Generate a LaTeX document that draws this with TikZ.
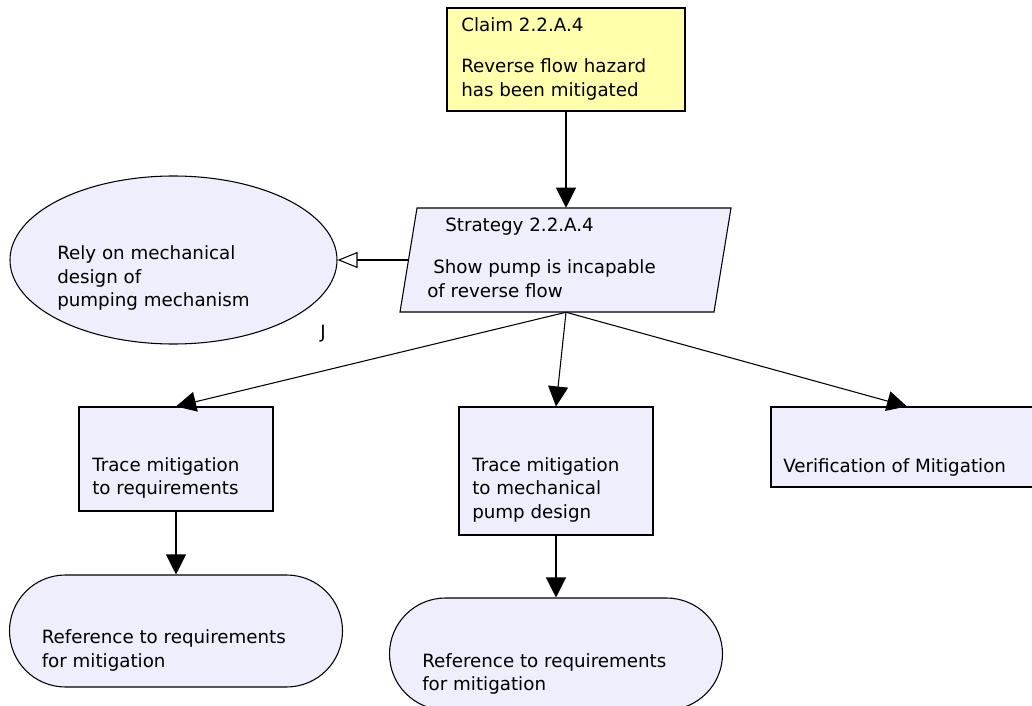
\documentclass[tikz,border=0pt]{standalone}
\usepackage{fontspec}
\setmainfont{DejaVu Sans}
\usetikzlibrary{arrows.meta,shapes.geometric,shapes.misc}
\definecolor{claimfill}{RGB}{255,255,172}
\definecolor{nodefill}{RGB}{238,238,252}
\begin{document}
\begin{tikzpicture}[x=0.75pt,y=-0.75pt,
  every node/.style={font=\fontsize{13.7pt}{18pt}\selectfont},
  lbl/.style={anchor=base west,inner sep=0pt},
  box/.style={draw=black,line width=0.8pt,fill=nodefill,rectangle,inner sep=0pt},
  claimbox/.style={box,fill=claimfill},
  ghost/.style={rectangle,inner sep=0pt},
  ctx/.style={draw=black,line width=0.8pt,fill=nodefill,ellipse,inner sep=0pt},
  solnbox/.style={draw=black,line width=0.8pt,fill=nodefill,rounded rectangle,inner sep=0pt},
  link/.style={line width=0.8pt,-{Triangle[length=15pt,width=15pt]}},
  ctxlink/.style={line width=0.8pt,-{Triangle[open,fill=white,length=15pt,width=12pt]}}]
\useasboundingbox (0,0) rectangle (1032,706);

% goal
\node[claimbox,minimum width=238*0.75pt,minimum height=103*0.75pt] (claim) at (566,59.5) {};
\node[lbl] (claimid) at (461,32) {Claim 2.2.A.4};
\node[lbl] (claimtxt1) at (461,73) {Reverse flow hazard};
\node[lbl] (claimtxt2) at (461,96.5) {has been mitigated};

% strategy (parallelogram drawn around an invisible frame)
\node[ghost,minimum width=314*0.75pt,minimum height=104*0.75pt] (strat) at (566,260) {};
\draw[line width=0.8pt,fill=nodefill] (417,208) -- (731,208) -- (714,312) -- (400,312) -- cycle;
\node[lbl] (stratid) at (445,232) {Strategy 2.2.A.4};
\node[lbl] (strattxt1) at (433,273) {Show pump is incapable};
\node[lbl] (strattxt2) at (427,297) {of reverse flow};

% justification
\node[ctx,minimum width=327*0.75pt,minimum height=168*0.75pt] (just) at (173.5,260) {};
\node[lbl] (justtxt1) at (57,259.5) {Rely on mechanical};
\node[lbl] (justtxt2) at (57,283) {design of};
\node[lbl] (justtxt3) at (57,306.5) {pumping mechanism};
\node[lbl] (justmark) at (320,338) {J};

% sub-goals
\node[box,minimum width=194*0.75pt,minimum height=104*0.75pt] (sg1) at (176,459) {};
\node[lbl] (sg1a) at (92,471) {Trace mitigation};
\node[lbl] (sg1b) at (92,494.5) {to requirements};

\node[box,minimum width=194*0.75pt,minimum height=128*0.75pt] (sg2) at (556,471) {};
\node[lbl] (sg2a) at (472,471) {Trace mitigation};
\node[lbl] (sg2b) at (472,494.5) {to mechanical};
\node[lbl] (sg2c) at (472,518) {pump design};

\node[box,minimum width=272*0.75pt,minimum height=80*0.75pt] (sg3) at (907,447) {};
\node[lbl] (sg3a) at (783,472) {Verification of Mitigation};

% solutions
\node[solnbox,minimum width=333*0.75pt,minimum height=112*0.75pt] (sol1) at (176,631) {};
\node[lbl] (sol1a) at (41.5,643) {Reference to requirements};
\node[lbl] (sol1b) at (41.5,667) {for mitigation};

\node[solnbox,minimum width=333*0.75pt,minimum height=112*0.75pt] (sol2) at (556,654) {};
\node[lbl] (sol2a) at (422,667) {Reference to requirements};
\node[lbl] (sol2b) at (422,690.5) {for mitigation};

% connectors
\draw[link] (claim.south) -- (strat.north);
\draw[ctxlink] (strat.west) -- (just.east);
\draw[link] (strat.south) -- (sg1.north);
\draw[link] (strat.south) -- (sg2.north);
\draw[link] (strat.south) -- (sg3.north);
\draw[link] (sg1.south) -- (sol1.north);
\draw[link] (sg2.south) -- (sol2.north);
\end{tikzpicture}
\end{document}
